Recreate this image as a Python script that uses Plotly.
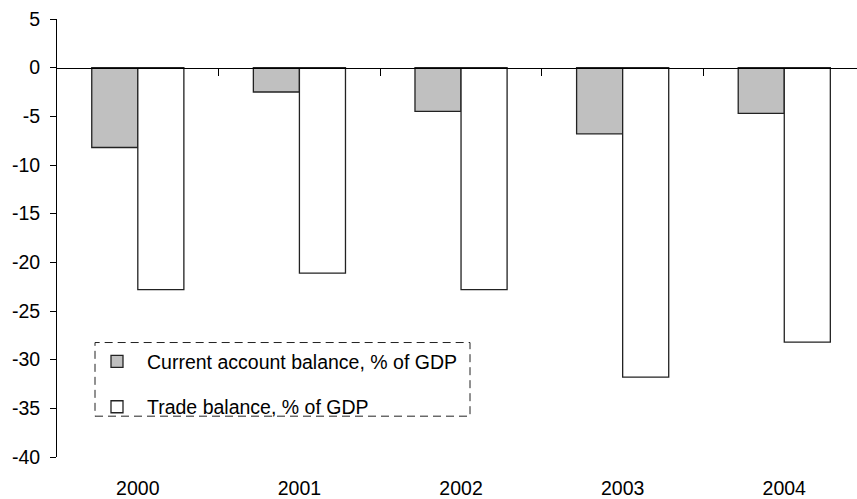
import plotly.graph_objects as go

# Balances, % of GDP
years = ["2000", "2001", "2002", "2003", "2004"]
current_account = [-8.2, -2.5, -4.5, -6.8, -4.7]
trade_balance = [-22.8, -21.1, -22.8, -31.8, -28.2]
y_ticks = [5, 0, -5, -10, -15, -20, -25, -30, -35, -40]
y_tick_text = [str(v) for v in y_ticks]  # plain hyphen minus

FONT = dict(family="Liberation Sans, Arial, sans-serif", size=19.5, color="black")

n = len(years)
x_range = [-0.5, n - 0.55]
boundaries = [i + 0.5 for i in range(n - 1)]

fig = go.Figure()
fig.add_trace(go.Bar(
    x=years, y=current_account, name="Current account balance, % of GDP",
    marker=dict(color="#c0c0c0", line=dict(color="#222222", width=1.3)),
    legendgroup="ca",
))
fig.add_trace(go.Bar(
    x=years, y=trade_balance, name="Trade balance, % of GDP",
    marker=dict(color="white", line=dict(color="#222222", width=1.3)),
    legendgroup="tb",
))
# empty helper trace so the zero-line axis gets drawn
fig.add_trace(go.Scatter(
    x=[None], y=[None], xaxis="x2", mode="markers",
    showlegend=False, hoverinfo="skip",
))

fig.update_layout(
    width=857, height=499,
    margin=dict(l=57, r=0, t=19, b=40),
    paper_bgcolor="white", plot_bgcolor="white",
    font=FONT,
    barmode="group", bargap=0.43, bargroupgap=0,
    showlegend=True,
    legend=dict(
        x=30 / 800, y=0.262, xanchor="left", yanchor="top",
        bgcolor="rgba(0,0,0,0)", borderwidth=0,
        traceorder="grouped", tracegroupgap=17, itemwidth=50,
        font=FONT,
    ),
    xaxis=dict(
        type="category", range=x_range, showline=False, ticks="",
        showgrid=False, zeroline=False, ticklabelstandoff=17,
    ),
    # horizontal line at zero with category-boundary ticks
    xaxis2=dict(
        type="linear", overlaying="x", anchor="free", position=40 / 45,
        layer="above traces",
        range=x_range, showline=True, linecolor="black", linewidth=1,
        ticks="outside", ticklen=7, tickcolor="black", tickwidth=1,
        tickmode="array", tickvals=boundaries,
        showticklabels=False, showgrid=False, zeroline=False,
    ),
    yaxis=dict(
        range=[-40, 5], tickmode="array", tickvals=y_ticks, ticktext=y_tick_text,
        showline=True, linecolor="black", linewidth=1,
        ticks="outside", ticklen=6, tickcolor="black",
        showgrid=False, zeroline=False, ticklabelstandoff=6,
    ),
    shapes=[dict(
        type="rect", xref="paper", yref="paper",
        x0=38 / 800, x1=413 / 800, y0=41 / 440, y1=115 / 440,
        line=dict(color="#222222", width=1, dash="8px,5px"),
        fillcolor="rgba(0,0,0,0)",
    )],
)

fig.write_html("out.html")
